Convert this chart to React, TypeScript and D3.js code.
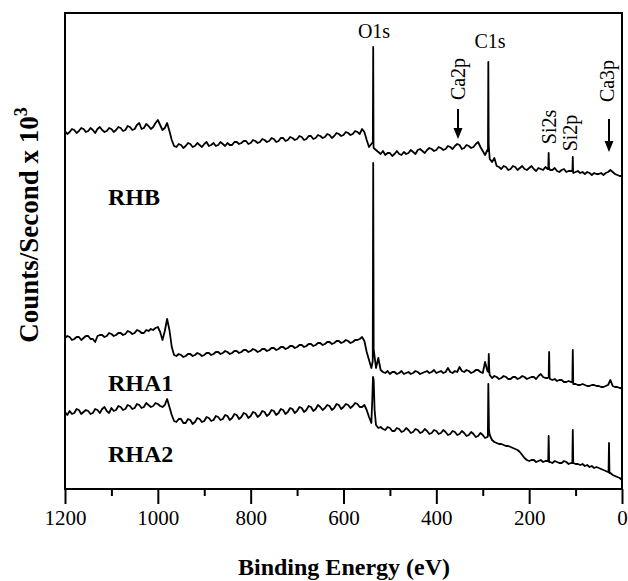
import React, { useEffect, useRef } from 'react';
import * as d3 from 'd3';

// survey spectra sampled every 5 eV from 1200 eV down to 0 eV (counts/s x 10^3)
const energyGrid = d3.range(1200, -1, -5);

const rhbCounts = [
  35.8, 35.5, 35.7, 36.0, 35.9, 35.6, 35.8, 36.1, 36.0, 35.7,
  35.8, 36.1, 35.9, 35.6, 36.0, 36.2, 35.9, 35.7, 35.8, 36.1,
  36.0, 35.7, 35.9, 36.2, 36.1, 35.8, 35.9, 36.3, 36.2, 35.9,
  36.0, 36.4, 36.6, 36.0, 36.1, 36.5, 36.3, 36.0, 36.2, 36.6,
  36.9, 36.4, 35.9, 36.1, 36.6, 35.8, 34.9, 34.3, 34.2, 34.5,
  34.4, 34.1, 34.3, 34.6, 34.5, 34.2, 34.3, 34.6, 34.4, 34.2,
  34.5, 34.7, 34.3, 34.4, 34.6, 34.3, 34.4, 34.7, 34.5, 34.3,
  34.6, 34.4, 34.4, 34.7, 34.7, 34.5, 34.6, 34.8, 34.8, 34.5,
  34.6, 34.9, 34.8, 34.6, 34.7, 35.0, 34.9, 34.7, 34.8, 35.1,
  35.0, 34.7, 34.8, 35.1, 35.1, 34.8, 34.9, 35.2, 35.1, 34.9,
  35.0, 35.3, 35.2, 34.9, 35.0, 35.3, 35.3, 35.0, 35.1, 35.4,
  35.3, 35.1, 35.2, 35.5, 35.4, 35.1, 35.3, 35.6, 35.5, 35.3,
  35.4, 35.7, 35.6, 35.4, 35.5, 35.8, 35.7, 35.5, 36.0, 35.7,
  34.9, 34.2, 34.5, 34.1, 33.9, 33.7, 33.5, 33.8, 33.4, 33.6,
  33.6, 33.3, 33.5, 33.8, 33.5, 33.4, 33.7, 33.5, 33.6, 33.9,
  33.7, 33.5, 33.9, 34.0, 33.8, 33.6, 33.9, 34.1, 34.0, 33.8,
  33.9, 34.2, 34.1, 33.9, 34.0, 34.3, 34.2, 34.0, 34.3, 34.5,
  34.4, 34.0, 34.1, 34.4, 34.3, 34.1, 34.2, 34.5, 34.7, 34.2,
  33.8, 33.4, 33.9, 33.0, 32.7, 33.1, 32.3, 32.2, 32.0, 32.3,
  32.2, 31.9, 32.0, 32.3, 32.2, 31.9, 32.1, 32.3, 32.0, 31.9,
  32.1, 32.3, 32.0, 31.8, 32.1, 32.0, 31.9, 32.2, 32.0, 31.9,
  31.9, 32.1, 31.8, 31.7, 31.9, 32.0, 31.7, 31.8, 31.8, 31.6,
  31.7, 31.8, 31.6, 31.7, 31.5, 31.7, 31.6, 31.4, 31.6, 31.5,
  31.5, 31.6, 31.4, 31.6, 31.7, 31.9, 31.7, 31.5, 31.4, 31.3,
  31.3,
];
// narrow photoelectron lines [eV, counts]
const rhbPeaks: [number, number][] = [
  [536.8, 34.7], [536, 44.2], [535.3, 34.3],
  [288.8, 33.8], [288, 42.7], [287.2, 34.5],
  [158.8, 32.0], [158, 33.6], [157.2, 32.1],
  [106.8, 31.8], [106, 33.2], [105.4, 31.8],
];

const rha1Counts = [
  15.1, 15.3, 15.2, 14.9, 15.0, 15.2, 15.2, 14.9, 15.1, 15.3,
  15.3, 15.0, 15.0, 14.7, 15.3, 15.4, 15.4, 15.2, 15.3, 15.6,
  15.5, 15.3, 15.4, 15.6, 15.6, 15.4, 15.5, 15.8, 15.7, 15.5,
  15.6, 15.9, 15.8, 15.6, 15.6, 15.9, 15.8, 16.0, 15.9, 16.1,
  16.2, 15.7, 14.9, 15.8, 17.0, 15.9, 14.2, 13.4, 13.3, 13.5,
  13.4, 13.2, 13.3, 13.5, 13.5, 13.3, 13.4, 13.6, 13.5, 13.3,
  13.4, 13.6, 13.6, 13.4, 13.5, 13.7, 13.7, 13.5, 13.6, 13.8,
  13.7, 13.5, 13.6, 13.8, 13.8, 13.6, 13.7, 13.9, 13.9, 13.7,
  13.8, 14.0, 13.9, 13.7, 13.8, 14.0, 14.0, 13.8, 13.9, 14.1,
  14.1, 13.9, 14.0, 14.2, 14.2, 14.0, 14.1, 14.3, 14.3, 14.1,
  14.2, 14.4, 14.4, 14.2, 14.3, 14.5, 14.5, 14.3, 14.4, 14.6,
  14.6, 14.4, 14.5, 14.7, 14.7, 14.5, 14.6, 14.8, 14.8, 14.6,
  14.7, 14.9, 14.8, 14.6, 14.7, 14.9, 14.9, 15.0, 15.2, 14.8,
  13.7, 12.9, 12.1, 14.0, 12.1, 13.1, 11.9, 11.7, 11.6, 11.8,
  11.5, 11.7, 11.7, 11.5, 11.6, 11.8, 11.5, 11.6, 11.7, 11.5,
  11.6, 11.8, 11.7, 11.5, 11.6, 11.7, 11.8, 11.6, 11.7, 11.9,
  11.6, 11.7, 11.8, 11.6, 11.7, 12.1, 11.7, 11.6, 11.8, 11.7,
  12.2, 11.8, 11.7, 11.9, 11.8, 11.6, 11.7, 11.9, 11.9, 11.7,
  11.6, 12.7, 11.8, 11.4, 11.1, 11.3, 11.2, 11.0, 11.1, 11.3,
  11.2, 11.0, 11.0, 11.2, 11.2, 11.0, 11.1, 11.3, 11.2, 11.0,
  11.1, 11.2, 11.2, 11.0, 11.3, 11.5, 11.2, 11.1, 11.1, 11.0,
  10.9, 11.0, 10.8, 10.9, 10.9, 10.7, 10.7, 10.8, 10.7, 10.5,
  10.5, 10.4, 10.4, 10.5, 10.4, 10.3, 10.3, 10.4, 10.4, 10.3,
  10.3, 10.2, 10.2, 10.3, 10.4, 10.9, 10.3, 10.2, 10.2, 10.1,
  10.1,
];
const rha1Peaks: [number, number][] = [
  [537, 12.8], [536, 32.6],
  [288, 11.7], [287, 13.5], [286, 11.9],
  [158, 11.2], [157, 13.7], [156, 11.1],
  [107, 10.7], [106, 13.9],
];

const rha2Counts = [
  7.7, 7.4, 7.8, 7.5, 7.6, 8.0, 7.9, 7.5, 7.7, 7.9,
  7.8, 7.5, 7.6, 8.0, 7.9, 7.6, 8.0, 8.2, 7.8, 7.6,
  8.1, 7.8, 7.9, 8.3, 8.2, 7.9, 8.0, 8.4, 8.3, 8.0,
  8.1, 8.5, 8.4, 8.1, 8.2, 8.6, 8.4, 8.2, 8.3, 8.6,
  8.5, 8.3, 8.2, 8.4, 9.0, 8.2, 7.4, 6.8, 6.7, 7.0,
  7.0, 6.6, 6.6, 7.0, 6.9, 6.5, 6.7, 7.1, 7.0, 6.7,
  6.8, 7.2, 7.1, 6.8, 6.9, 7.3, 7.2, 6.9, 7.0, 7.4,
  7.3, 6.9, 7.1, 7.5, 7.4, 7.0, 7.2, 7.6, 7.5, 7.1,
  7.3, 7.7, 7.6, 7.2, 7.4, 7.8, 7.7, 7.3, 7.5, 7.9,
  7.8, 7.4, 7.6, 8.0, 7.9, 7.5, 7.7, 8.1, 8.0, 7.6,
  7.8, 8.2, 8.1, 7.7, 7.9, 8.3, 8.2, 7.8, 8.0, 8.4,
  8.2, 7.9, 8.1, 8.4, 8.3, 7.9, 8.1, 8.5, 8.4, 8.0,
  8.2, 8.5, 8.4, 8.1, 8.3, 8.6, 8.5, 8.2, 8.2, 8.4,
  7.9, 7.2, 6.6, 10.9, 6.4, 6.1, 6.2, 6.0, 5.9, 6.2,
  6.1, 5.8, 5.8, 6.1, 6.0, 5.7, 5.8, 6.1, 5.9, 5.6,
  5.7, 6.0, 5.9, 5.6, 5.7, 6.0, 5.8, 5.5, 5.6, 5.9,
  5.8, 5.5, 5.6, 5.9, 5.7, 5.4, 5.5, 5.8, 5.7, 5.4,
  5.5, 5.8, 5.6, 5.3, 5.4, 5.7, 5.5, 5.2, 5.3, 5.6,
  5.4, 5.1, 5.2, 5.4, 4.9, 4.7, 4.6, 4.5, 4.5, 4.4,
  4.3, 4.3, 4.2, 4.1, 4.0, 3.9, 3.7, 3.4, 3.1, 2.9,
  2.8, 2.9, 2.9, 2.7, 2.8, 2.9, 2.7, 2.8, 2.8, 2.7,
  2.6, 2.8, 2.7, 2.6, 2.6, 2.8, 2.7, 2.5, 2.6, 2.6,
  2.5, 2.5, 2.4, 2.5, 2.3, 2.4, 2.2, 2.3, 2.1, 2.2,
  2.1, 2.0, 1.9, 1.8, 1.7, 1.6, 1.4, 1.3, 1.2, 1.1,
  0.9,
];
const rha2Peaks: [number, number][] = [
  [538, 8.9], [536.5, 11.2], [533, 7.9],
  [289, 5.3], [288, 10.5], [286.5, 5.9],
  [159, 2.8], [158, 5.3], [157, 2.7],
  [107, 2.6], [106, 5.9],
  [29, 1.7], [28, 4.6], [27, 1.6],
];

const majorTicks = [1200, 1000, 800, 600, 400, 200, 0];
const minorTicks = [1100, 900, 700, 500, 300, 100];

const sampleNames = ['RHB', 'RHA1', 'RHA2'];

function spectrum(counts: number[], peaks: [number, number][]): [number, number][] {
  const pts: [number, number][] = energyGrid.map((e, i) => [e, counts[i]]);
  return pts.concat(peaks).sort((a, b) => b[0] - a[0]);
}

export default function App() {
  const ref = useRef<SVGSVGElement>(null);

  useEffect(() => {
    const width = 628;
    const height = 581;
    const left = 65, right = 622, top = 13, bottom = 489;
    const font = '"Liberation Serif", "Times New Roman", serif';

    const svg = d3.select(ref.current).attr('width', width).attr('height', height);
    svg.selectAll('*').remove();

    const x = d3.scaleLinear().domain([1200, 0]).range([left, right]);
    const y = d3.scaleLinear().domain([0, 47.6]).range([bottom, top]);

    const line = d3.line<[number, number]>()
      .x(d => x(d[0]))
      .y(d => y(d[1]));

    const series = [
      spectrum(rhbCounts, rhbPeaks),
      spectrum(rha1Counts, rha1Peaks),
      spectrum(rha2Counts, rha2Peaks),
    ];
    series.forEach(s => {
      svg.append('path')
        .datum(s)
        .attr('d', line)
        .attr('fill', 'none')
        .attr('stroke', '#000')
        .attr('stroke-width', 1.8)
        .attr('stroke-linejoin', 'round');
    });

    // frame
    svg.append('rect')
      .attr('x', left).attr('y', top)
      .attr('width', right - left).attr('height', bottom - top)
      .attr('fill', 'none').attr('stroke', '#000').attr('stroke-width', 2);

    const major = svg.append('g')
      .attr('transform', `translate(0,${bottom})`)
      .call(d3.axisBottom(x).tickValues(majorTicks).tickSize(15).tickPadding(6).tickFormat(d3.format('d')));
    const minor = svg.append('g')
      .attr('transform', `translate(0,${bottom})`)
      .call(d3.axisBottom(x).tickValues(minorTicks).tickSize(7).tickFormat(() => ''));
    [major, minor].forEach(g => {
      g.select('.domain').remove();
      g.selectAll('line').attr('stroke', '#000').attr('stroke-width', 2);
    });
    major.selectAll('text')
      .attr('font-family', font)
      .attr('font-size', 21)
      .attr('fill', '#000');

    svg.append('text')
      .attr('x', (left + right) / 2 + 0.5)
      .attr('y', 575)
      .attr('text-anchor', 'middle')
      .attr('font-family', font)
      .attr('font-weight', 'bold')
      .attr('font-size', 24)
      .text('Binding Energy (eV)');

    const yl = svg.append('text')
      .attr('transform', 'translate(38,225) rotate(-90)')
      .attr('text-anchor', 'middle')
      .attr('font-family', font)
      .attr('font-weight', 'bold')
      .attr('font-size', 27);
    yl.append('tspan').text('Counts/Second x 10');
    yl.append('tspan').attr('dy', -11).attr('font-size', 18).text('3');

    // sample names
    const nameY = [205, 391, 462];
    sampleNames.forEach((n, i) => {
      svg.append('text')
        .attr('x', 108).attr('y', nameY[i])
        .attr('font-family', font).attr('font-weight', 'bold').attr('font-size', 24)
        .text(n);
    });

    // peak labels
    const flat = [
      { t: 'O1s', x: 374, y: 38 },
      { t: 'C1s', x: 490, y: 48 },
    ];
    flat.forEach(p => {
      svg.append('text')
        .attr('x', p.x).attr('y', p.y)
        .attr('text-anchor', 'middle')
        .attr('font-family', font).attr('font-size', 20)
        .text(p.t);
    });
    const rotated = [
      { t: 'Ca2p', x: 465, y: 79 },
      { t: 'Si2s', x: 556, y: 127 },
      { t: 'Si2p', x: 577, y: 133 },
      { t: 'Ca3p', x: 614, y: 81 },
    ];
    rotated.forEach(p => {
      svg.append('text')
        .attr('transform', `translate(${p.x},${p.y}) rotate(-90)`)
        .attr('text-anchor', 'middle')
        .attr('font-family', font).attr('font-size', 20)
        .text(p.t);
    });

    // arrows
    const arrows = [
      { x: 458, y1: 109, y2: 139 },
      { x: 609, y1: 119, y2: 152 },
    ];
    arrows.forEach(a => {
      svg.append('line')
        .attr('x1', a.x).attr('x2', a.x)
        .attr('y1', a.y1).attr('y2', a.y2 - 8)
        .attr('stroke', '#000').attr('stroke-width', 2);
      svg.append('path')
        .attr('d', `M${a.x - 4.5},${a.y2 - 11}L${a.x + 4.5},${a.y2 - 11}L${a.x},${a.y2}Z`)
        .attr('fill', '#000');
    });
  });

  return (
    <svg ref={ref} style={{ position: 'absolute', left: 0, top: 0, background: '#fff' }} />
  );
}
